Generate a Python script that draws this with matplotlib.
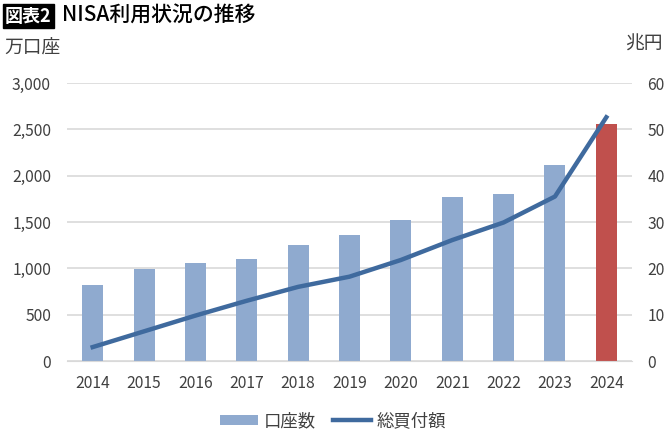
import numpy as np
import matplotlib.pyplot as plt
from matplotlib.patches import Patch
from matplotlib.lines import Line2D

plt.rcParams['font.family'] = ['Noto Sans CJK JP', 'DejaVu Sans']

years = ['2014', '2015', '2016', '2017', '2018', '2019', '2020', '2021', '2022', '2023', '2024']
accounts = [820, 990, 1057, 1097, 1251, 1359, 1518, 1766, 1798, 2118, 2553]   # 万口座
purchases = [3.0, 6.4, 9.8, 13.0, 16.0, 18.2, 21.8, 26.1, 29.9, 35.5, 52.6]  # 兆円

bar_blue = '#8FAACF'
bar_red = '#C0504D'
line_blue = '#3F6A9E'
txt = '#404040'

fig = plt.figure(figsize=(6.7, 4.33), dpi=100)
ax = fig.add_axes([67/670, 1-361/433, 565/670, 278/433])
ax2 = ax.twinx()

x = np.arange(len(years))
colors = [bar_blue]*(len(years)-1) + [bar_red]
ax.bar(x, accounts, width=0.41, color=colors, zorder=2)
ax.set_ylim(0, 3000)
ax.set_yticks(np.arange(0, 3001, 500))
ax.set_yticklabels([f'{v:,}' for v in range(0, 3001, 500)])
ax.set_xlim(-0.5, len(years)-0.5)
ax.set_xticks(x)
ax.set_xticklabels(years)
ax.grid(axis='y', color='#D9D9D9', linewidth=1.2, zorder=0)
ax.set_axisbelow(True)

ax2.plot(x, purchases, color=line_blue, linewidth=3.2, zorder=3)
ax2.set_ylim(0, 60)
ax2.set_yticks(np.arange(0, 61, 10))

for a in (ax, ax2):
    for s in a.spines.values():
        s.set_visible(False)
    a.tick_params(length=0, labelsize=11.3, colors=txt)
ax.tick_params(axis='y', pad=11.5)
ax.tick_params(axis='x', pad=10)
ax2.tick_params(axis='y', pad=11)
ax.spines['bottom'].set_visible(True)
ax.spines['bottom'].set_color('#D9D9D9')

# title
fig.text(5/670, 1-16/433, '図表2', color='white', fontsize=13, fontweight='bold', va='center', ha='left',
         bbox=dict(boxstyle='square,pad=0.12', facecolor='black', edgecolor='black'))
fig.text(62/670, 1-16/433, 'NISA利用状況の推移', color='black', fontsize=15, fontweight='medium',
         va='center', ha='left')
fig.text(4/670, 1-48/433, '万口座', color=txt, fontsize=13.5, va='center', ha='left')
fig.text(663/670, 1-44/433, '兆円', color=txt, fontsize=13.5, va='center', ha='right')

handles = [Patch(facecolor=bar_blue, label='口座数'),
           Line2D([0], [0], color=line_blue, linewidth=3.2, label='総買付額')]
fig.legend(handles=handles, loc='center', bbox_to_anchor=(333/670, 1-421/433), ncol=2, frameon=False,
           fontsize=12.5, handlelength=2.2, handleheight=0.5, columnspacing=1.0, handletextpad=0.3,
           labelcolor=txt)

fig.savefig('out.png', dpi=100)
